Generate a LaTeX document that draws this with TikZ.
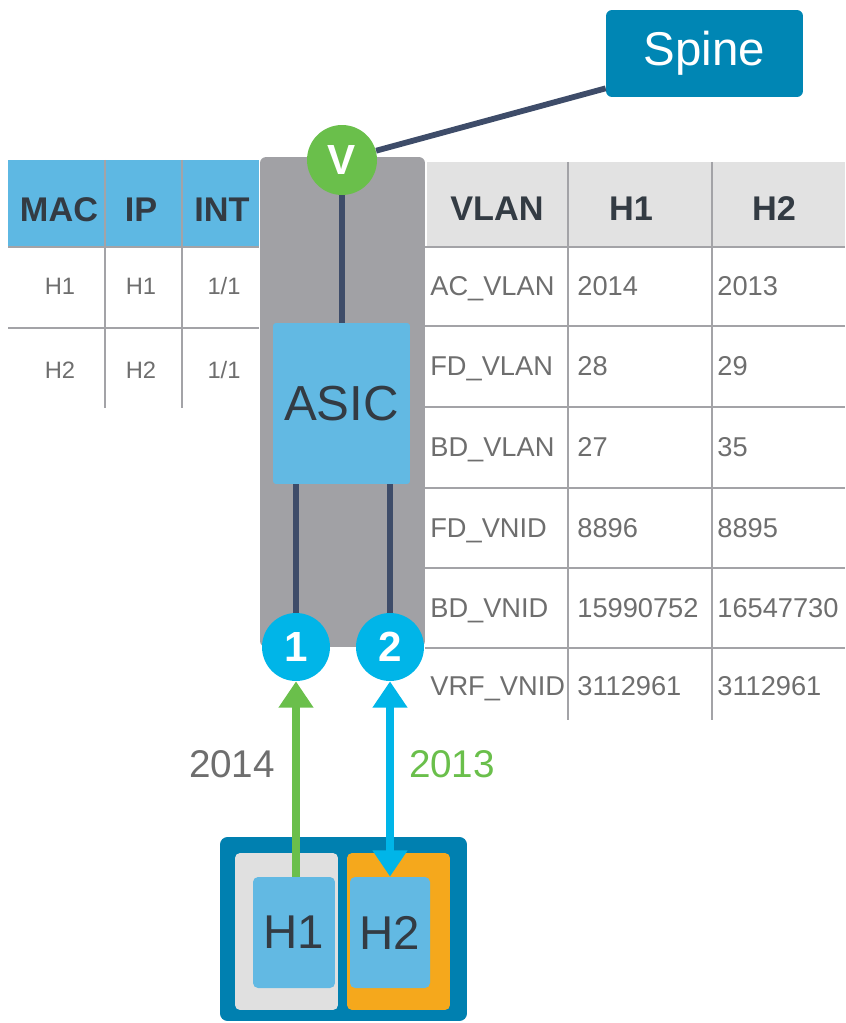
\documentclass[tikz,border=0pt]{standalone}
\usepackage{fontspec}
\setmainfont{Liberation Sans}
\usetikzlibrary{arrows.meta,positioning}

\definecolor{spineblue}{HTML}{0086B4}
\definecolor{leafgray}{HTML}{A1A1A5}
\definecolor{asicblue}{HTML}{62B9E3}
\definecolor{portcyan}{HTML}{00B5E8}
\definecolor{vtepgreen}{HTML}{6ABF4B}
\definecolor{wireblue}{HTML}{3E4C69}
\definecolor{hostblue}{HTML}{0080B0}
\definecolor{slotgray}{HTML}{E0E0E0}
\definecolor{slotorange}{HTML}{F5A81C}
\definecolor{hdrblue}{HTML}{5EB8E3}
\definecolor{hdrgray}{HTML}{E2E2E2}
\definecolor{rulegray}{HTML}{A3A3A7}
\definecolor{txtgray}{HTML}{6E6E6E}
\definecolor{txtdark}{HTML}{333B43}

\begin{document}
\begin{tikzpicture}[x=0.02cm, y=-0.02cm,
    wire/.style={line width=3.3pt, draw=wireblue},
    rule/.style={line width=1.6pt, draw=rulegray},
    badge/.style={circle, inner sep=0pt, minimum size=1.36cm, text=white, font=\bfseries\fontsize{24}{24}\selectfont},
    hdrtxt/.style={anchor=base, inner sep=0pt, text=txtdark, font=\bfseries\fontsize{19.5}{20}\selectfont},
    celltxt/.style={anchor=base west, inner sep=0pt, text=txtgray, font=\fontsize{15.5}{16}\selectfont},
    bigtxt/.style={text=txtdark, font=\fontsize{28}{28}\selectfont}]
        \useasboundingbox (0,0) rectangle (845,1023);

        % Leaf switch body behind the ASIC
        \node[fill=leafgray, rounded corners=0.12cm, minimum width=3.3cm, minimum height=9.8cm] (leaf) at (342.5,402) {};

        % Left table: MAC / IP / INT
        \fill[hdrblue] (8,160) rectangle (259,247);
        \draw[rule] (105,160) -- (105,408);
        \draw[rule] (182,160) -- (182,408);
        \draw[rule] (8,247) -- (259,247);
        \draw[rule] (8,328) -- (259,328);
        \node[hdrtxt] (mac) at (59,222) {MAC};
        \node[hdrtxt] (ip) at (141,222) {IP};
        \node[hdrtxt] (int) at (222,222) {INT};
        \node[celltxt, anchor=base, font=\fontsize{13.5}{14}\selectfont] (macone) at (60,295) {H1};
        \node[celltxt, anchor=base, font=\fontsize{13.5}{14}\selectfont] (ipone) at (141,295) {H1};
        \node[celltxt, anchor=base, font=\fontsize{13.5}{14}\selectfont] (intone) at (224,295) {1/1};
        \node[celltxt, anchor=base, font=\fontsize{13.5}{14}\selectfont] (mactwo) at (60,378) {H2};
        \node[celltxt, anchor=base, font=\fontsize{13.5}{14}\selectfont] (iptwo) at (141,378) {H2};
        \node[celltxt, anchor=base, font=\fontsize{13.5}{14}\selectfont] (inttwo) at (224,378) {1/1};

        % Right table: VLAN / H1 / H2
        \fill[hdrgray] (427,162) rectangle (845,247);
        \draw[rule] (568,162) -- (568,720);
        \draw[rule] (712,162) -- (712,720);
        \foreach \y in {247,326,407,488,568,648}
            \draw[rule] (425,\y) -- (845,\y);
        \node[hdrtxt] (vlan) at (497,221) {VLAN};
        \node[hdrtxt] (hone) at (631,221) {H1};
        \node[hdrtxt] (htwo) at (774,221) {H2};
        \foreach \lbl/\va/\vb/\y [count=\i] in {AC\_VLAN/2014/2013/296, FD\_VLAN/28/29/376,
                BD\_VLAN/27/35/456, FD\_VNID/8896/8895/537, BD\_VNID/15990752/16547730/617,
                VRF\_VNID/3112961/3112961/695} {
            \node[celltxt] (lbl\i) at (430,\y) {\lbl};
            \node[celltxt] (va\i) at (577,\y) {\va};
            \node[celltxt] (vb\i) at (717,\y) {\vb};
        }

        % Spine and the VTEP uplink
        \node[fill=spineblue, rounded corners=0.12cm, minimum width=3.94cm, minimum height=1.74cm,
            text=white, font=\fontsize{27}{27}\selectfont] (spine) at (704.5,53.5) {Spine};
        \node[badge, fill=vtepgreen, minimum size=1.4cm] (vtep) at (342,160) {V};
        \draw[wire] (vtep) -- ([yshift=0.18cm]spine.south west);

        % ASIC and the front ports
        \node[fill=asicblue, rounded corners=0.06cm, minimum width=2.74cm, minimum height=3.22cm, bigtxt] (asic) at (341.5,403.5) {ASIC};
        \node[badge, fill=portcyan] (port1) at (296,647) {1};
        \node[badge, fill=portcyan] (port2) at (390,647) {2};
        \draw[wire] (vtep) -- (vtep |- asic.north);
        \draw[wire] (port1 |- asic.south) -- (port1);
        \draw[wire] (port2 |- asic.south) -- (port2);

        % Host with two interfaces
        \node[fill=hostblue, rounded corners=0.15cm, minimum width=4.94cm, minimum height=3.68cm] (server) at (343.5,929) {};
        \node[fill=slotgray, rounded corners=0.1cm, minimum width=2.06cm, minimum height=3.14cm] (slotone) at (286.5,931.5) {};
        \node[fill=slotorange, rounded corners=0.1cm, minimum width=2.06cm, minimum height=3.14cm] (slottwo) at (398.5,931.5) {};
        \node[fill=asicblue, rounded corners=0.1cm, minimum width=1.64cm, minimum height=2.22cm, bigtxt, font=\fontsize{27}{27}\selectfont] (h1) at (294,932.5) {H1};
        \node[fill=asicblue, rounded corners=0.1cm, minimum width=1.6cm, minimum height=2.22cm, bigtxt, font=\fontsize{27}{27}\selectfont] (h2) at (390,932.5) {H2};

        % Access VLAN arrows
        \draw[line width=4.2pt, vtepgreen, -{Triangle[width=19pt,length=15pt]}] (h1.north -| port1) -- (port1);
        \draw[line width=4.2pt, portcyan, {Triangle[width=19pt,length=15pt]}-{Triangle[width=19pt,length=15pt]}] (port2) -- (h2.north -| port2);
        \node[text=txtgray, font=\fontsize{22}{22}\selectfont] (tagone) at (232,764) {2014};
        \node[text=vtepgreen, font=\fontsize{22}{22}\selectfont] (tagtwo) at (452,764) {2013};
    \end{tikzpicture}
\end{document}
